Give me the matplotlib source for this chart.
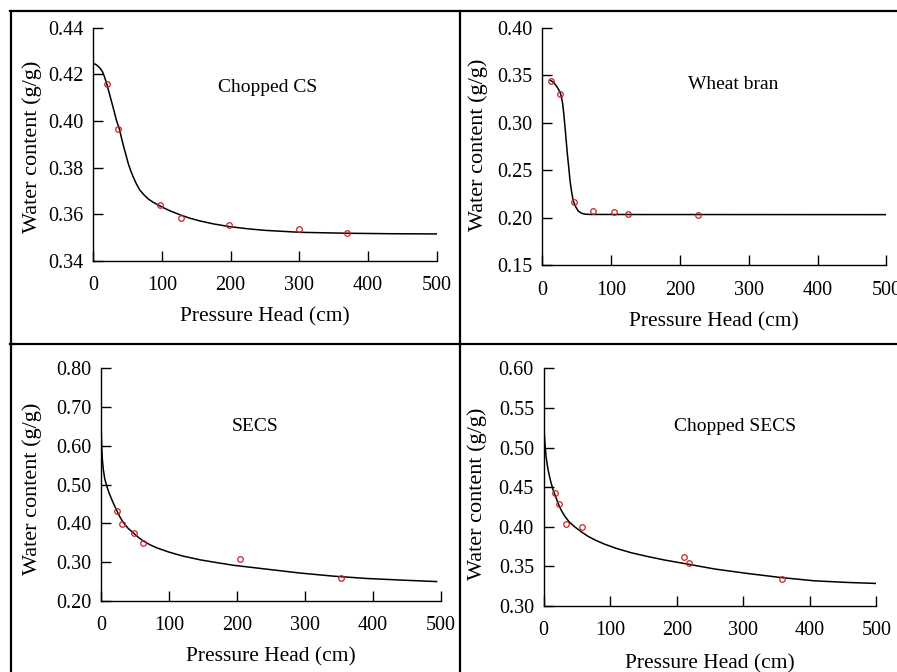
import numpy as np
import matplotlib as mpl
mpl.use("Agg")
import matplotlib.pyplot as plt
from matplotlib.lines import Line2D

plt.rcParams.update({
    "font.family": "serif",
    "font.serif": ["Liberation Serif", "DejaVu Serif"],
    "font.size": 14,
    "axes.linewidth": 1.0,
})

# ---- measured points (pressure head cm, water content g/g) ----
cs_h = [19.4, 36.4, 97, 127.7, 197, 299, 369]
cs_w = [0.4157, 0.3966, 0.364, 0.3586, 0.3553, 0.3536, 0.3519]
wb_h = [13.1, 25.7, 46.5, 74, 104.7, 125, 226.7]
wb_w = [0.3438, 0.3305, 0.2164, 0.2072, 0.2065, 0.2044, 0.2027]
secs_h = [23, 30.4, 48.6, 62.3, 204.6, 352.8]
secs_w = [0.432, 0.3993, 0.3744, 0.3503, 0.309, 0.260]
csecs_h = [16.5, 22.5, 33.6, 58.1, 211.4, 219, 358.7]
csecs_w = [0.443, 0.4283, 0.404, 0.3997, 0.3622, 0.3538, 0.3336]

# ---- fitted curves ----
cs_fit_h = [0, 3.5, 7.3, 10.5, 13.6, 16.5, 19.5, 23, 26.8, 30.5, 34, 37.9, 41,
            43.7, 47.5, 51, 54.5, 58.2, 63, 68, 74, 80, 87, 94.6, 103, 111.7,
            127.3, 140, 155, 175, 197, 225, 252, 301, 369, 430, 500]
cs_fit_w = [0.4246, 0.4243, 0.4234, 0.4224, 0.421, 0.4188, 0.416, 0.4122,
            0.4081, 0.404, 0.400, 0.3967, 0.3928, 0.3896, 0.3855, 0.3817,
            0.3787, 0.376, 0.3729, 0.3703, 0.3683, 0.3666, 0.3652, 0.3640,
            0.3627, 0.3615, 0.3597, 0.3584, 0.3572, 0.3559, 0.3548, 0.3538,
            0.3531, 0.3523, 0.3519, 0.3517, 0.3516]
wb_fit_h = [11.2, 15, 18.5, 22, 25.7, 27.8, 29.6, 31.3, 33, 34.7, 36.4, 38.4,
            40.3, 42.6, 45, 48.5, 52.3, 57, 62, 70, 98, 150, 250, 500]
wb_fit_w = [0.3447, 0.3432, 0.3405, 0.337, 0.3323, 0.327, 0.320, 0.3085,
            0.2953, 0.2812, 0.2671, 0.253, 0.2388, 0.227, 0.2176, 0.2115,
            0.207, 0.2048, 0.2038, 0.2035, 0.2035, 0.2034, 0.2034, 0.2033]
secs_fit_h = [0, 0.3, 1, 2, 3.4, 5.5, 8.3, 12, 15.7, 19, 23, 28, 33, 40, 48, 55,
              62, 72, 82, 100, 120, 146, 170, 195, 244, 293, 342, 391, 440, 494]
secs_fit_w = [0.687, 0.64, 0.60, 0.565, 0.539, 0.515, 0.497, 0.478, 0.462, 0.449,
              0.434, 0.416, 0.402, 0.387, 0.375, 0.364, 0.355, 0.345, 0.337,
              0.326, 0.316, 0.306, 0.299, 0.292, 0.282, 0.272, 0.264, 0.258,
              0.254, 0.250]
csecs_fit_h = [0, 0.5, 1.5, 3.5, 6.5, 10, 14, 18, 21.5, 26, 31.6, 38, 46.6, 56,
               66.6, 78, 91.7, 110, 131.8, 155, 181.9, 217, 257, 307, 357, 407,
               455, 499]
csecs_fit_w = [0.546, 0.525, 0.510, 0.489, 0.4725, 0.459, 0.447, 0.438, 0.430,
               0.4215, 0.4135, 0.4065, 0.400, 0.394, 0.388, 0.383, 0.378, 0.3725,
               0.3672, 0.3627, 0.358, 0.3528, 0.3467, 0.341, 0.3359, 0.3318,
               0.3298, 0.3285]

panels = [
    dict(pos=[0.104, 0.6116, 0.3828, 0.3472], h=cs_h, w=cs_w, fh=cs_fit_h, fw=cs_fit_w,
         ylim=(0.34, 0.44), yticks=[0.34, 0.36, 0.38, 0.40, 0.42, 0.44],
         name="Chopped CS", npos=(0.509, 0.742), xl=-0.24, yl=(-0.178, 0.489)),
    dict(pos=[0.6046, 0.6052, 0.3835, 0.3536], h=wb_h, w=wb_w, fh=wb_fit_h, fw=wb_fit_w,
         ylim=(0.15, 0.40), yticks=[0.15, 0.20, 0.25, 0.30, 0.35, 0.40],
         name="Wheat bran", npos=(0.554, 0.759), xl=-0.237, yl=(-0.187, 0.506)),
    dict(pos=[0.1126, 0.1057, 0.3787, 0.3463], h=secs_h, w=secs_w, fh=secs_fit_h, fw=secs_fit_w,
         ylim=(0.20, 0.80), yticks=[0.20, 0.30, 0.40, 0.50, 0.60, 0.70, 0.80],
         name="SECS", npos=(0.453, 0.748), xl=-0.239, yl=(-0.202, 0.481)),
    dict(pos=[0.6061, 0.0982, 0.3708, 0.3537], h=csecs_h, w=csecs_w, fh=csecs_fit_h, fw=csecs_fit_w,
         ylim=(0.30, 0.60), yticks=[0.30, 0.35, 0.40, 0.45, 0.50, 0.55, 0.60],
         name="Chopped SECS", npos=(0.576, 0.757), xl=-0.244, yl=(-0.200, 0.471)),
]

fig = plt.figure(figsize=(8.97, 6.72), dpi=100)

for p in panels:
    ax = fig.add_axes(p["pos"])
    ax.plot(p["fh"], p["fw"], "-", c="black", lw=1.1, zorder=2)
    ax.plot(p["h"], p["w"], "o", ms=4, mfc="none", mec="#cc2027", mew=0.9, zorder=3)
    ax.set_xlim(0, 500)
    ax.set_ylim(*p["ylim"])
    ax.set_xticks([0, 100, 200, 300, 400, 500])
    ax.set_yticks(p["yticks"])
    ax.set_yticklabels([f"{v:.2f}" for v in p["yticks"]])
    ax.spines["top"].set_visible(False)
    ax.spines["right"].set_visible(False)
    ax.tick_params(direction="in", length=7, width=1.0, labelsize=14.5)
    ax.tick_params(axis="x", pad=11)
    ax.tick_params(axis="y", pad=7)
    ax.set_xlabel("Pressure Head (cm)", fontsize=15.5, va="center")
    ax.xaxis.set_label_coords(0.5, p["xl"])
    ax.set_ylabel("Water content (g/g)", fontsize=16, va="center")
    ax.yaxis.set_label_coords(*p["yl"])
    ax.text(*p["npos"], p["name"], transform=ax.transAxes, ha="center",
            va="center", fontsize=14)

# panel frame lines
for xs, ys in [((10.5, 10.5), (11, 672)), ((10, 897), (11, 11)),
               ((460, 460), (11, 672)), ((10, 897), (343.5, 343.5))]:
    fig.add_artist(Line2D([x / 897 for x in xs], [1 - y / 672 for y in ys],
                          transform=fig.transFigure, c="black", lw=1.6))

fig.savefig("out.png", dpi=100)
